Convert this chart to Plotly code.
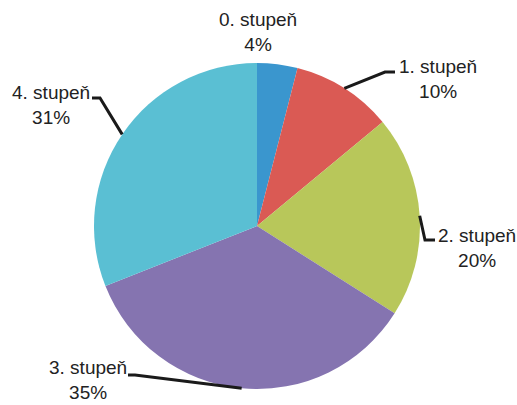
import math
import plotly.graph_objects as go

labels = ["0. stupeň", "1. stupeň", "2. stupeň", "3. stupeň", "4. stupeň"]
values = [4, 10, 20, 35, 31]
colors = ["#3A96CE", "#DA5A54", "#B8C75A", "#8574B0", "#5ABFD3"]

W, H = 517, 405
CX, CY, R = 257, 226, 163  # pie centre / radius in pixels

# label layout (pixel positions of text anchors, elbow of leader line)
label_pos = [(258, 32, "center"), (398, 79, "left"), (437, 248, "left"), (128, 380, "right"), (91, 105, "right")]
elbows = [None, (385, 72), (425, 240), (135, 375), (100, 98)]
line_ends = [None, (395, 72), (435, 240), (128, 375), (92, 98)]

def px(x):
    return x / W

def py(y):
    return 1 - y / H

fig = go.Figure(go.Pie(
    labels=labels, values=values, sort=False, direction="clockwise", rotation=0,
    marker=dict(colors=colors, line=dict(width=0)),
    textinfo="none", hoverinfo="label+percent",
    domain=dict(x=[px(CX - R), px(CX + R)], y=[py(CY + R), py(CY - R)]),
    showlegend=False, automargin=False,
))

total = sum(values)
cum = 0
for i, (lab, v) in enumerate(zip(labels, values)):
    mid = (cum + v / 2) / total * 2 * math.pi
    cum += v
    pct = round(v / total * 100)
    tx, ty, side = label_pos[i]
    fig.add_annotation(
        x=px(tx), y=py(ty), xref="paper", yref="paper",
        text=f"{lab}<br>{pct}%", showarrow=False, align="center",
        xanchor=side, yanchor="middle", borderpad=0,
        font=dict(family="Liberation Sans, Arial", size=19, color="#222"),
    )
    if elbows[i] is not None:
        sx = CX + R * math.sin(mid)
        sy = CY - R * math.cos(mid)
        ex, ey = elbows[i]
        lx, ly = line_ends[i]
        path = f"M {px(sx)} {py(sy)} L {px(ex)} {py(ey)} L {px(lx)} {py(ly)}"
        fig.add_shape(type="path", xref="paper", yref="paper", path=path,
                      line=dict(color="#1a1a1a", width=3))

fig.update_layout(width=W, height=H, margin=dict(l=0, r=0, t=0, b=0),
                  paper_bgcolor="white", plot_bgcolor="white")
fig.write_html("out.html", config={"displayModeBar": False},
               post_script="document.body.style.margin='0';")
